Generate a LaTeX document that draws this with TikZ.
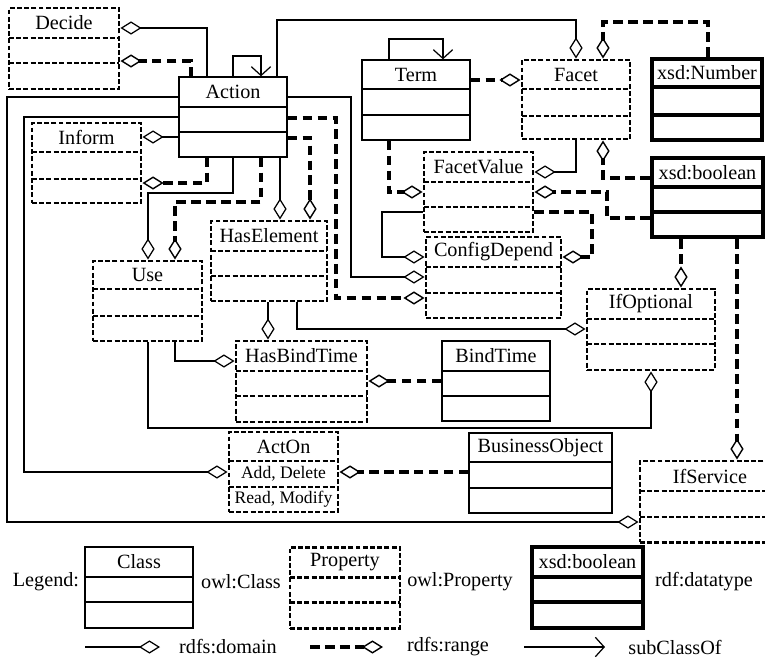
\documentclass[tikz,border=0pt]{standalone}
\usepackage{fontspec}
\setmainfont{Liberation Serif}
\usetikzlibrary{arrows.meta,fit}

\tikzset{
  classbox/.style={draw, line width=0.8pt, inner sep=0pt},
  propbox/.style={draw, line width=1.7pt, dash pattern=on 2.8pt off 1.3pt, inner sep=0pt},
  typebox/.style={draw, line width=2.8pt, inner sep=0pt},
  boxtext/.style={font=\fontsize{11.5}{13}\selectfont, inner sep=0pt},
  smalltext/.style={font=\fontsize{10}{12}\selectfont, inner sep=0pt},
  domainline/.style={line width=0.7pt, -{Diamond[open, length=12pt, width=7.5pt]}},
  rangeline/.style={line width=1.8pt, dash pattern=on 5.5pt off 3pt,
    -{Diamond[open, length=12pt, width=7.5pt, line width=0.8pt]}},
  subclassline/.style={line width=0.7pt, -{Straight Barb[length=5pt, width=11pt]}},
}

% box with name, corners, two dividers and title
\newcommand{\umlbox}[9]{%
  \node[#1, fit={(#3,#4) (#5,#6)}] (#2) {};
  \path[draw,#1] (#3,#7) -- (#5,#7);
  \path[draw,#1] (#3,#8) -- (#5,#8);
  \node[boxtext] (#2-title) at ({(#3+#5)/2},{(#4+#7)/2}) {#9};
}

\begin{document}
\begin{tikzpicture}[x=0.02cm, y=-0.02cm]
\useasboundingbox (0,0) rectangle (765,660);

\umlbox{propbox}{Decide}{9}{8}{119}{89}{38}{63}{Decide}
\umlbox{classbox}{Action}{179}{77}{287}{157}{107}{132}{Action}
\umlbox{classbox}{Term}{362}{60}{470}{140}{89}{115}{Term}
\umlbox{propbox}{Facet}{522}{60}{630}{139}{89}{116}{Facet}
\umlbox{typebox}{xsdNumber}{652}{59}{762}{140}{87}{115}{xsd:Number}
\umlbox{typebox}{xsdBoolean}{652}{158}{763}{237}{187}{212}{xsd:boolean}
\umlbox{propbox}{Inform}{32}{123}{141}{203}{152}{179}{Inform}
\umlbox{propbox}{FacetValue}{424}{152}{533}{232}{182}{207}{FacetValue}
\umlbox{propbox}{ConfigDepend}{426}{237}{561}{318}{267}{293}{ConfigDepend}
\umlbox{propbox}{HasElement}{211}{221}{327}{301}{251}{276}{HasElement}
\umlbox{propbox}{Use}{93}{261}{202}{341}{289}{316}{Use}
\umlbox{propbox}{IfOptional}{587}{289}{715}{370}{319}{344}{IfOptional}
\umlbox{propbox}{HasBindTime}{236}{341}{367}{422}{371}{396}{HasBindTime}
\umlbox{classbox}{BindTime}{442}{341}{550}{421}{371}{396}{BindTime}
\umlbox{propbox}{ActOn}{229}{432}{338}{512}{461}{487}{ActOn}
\node[smalltext] (ActOn-add) at (ActOn.center |- 0,474) {Add, Delete};
\node[smalltext] (ActOn-read) at (ActOn.center |- 0,499) {Read, Modify};
\umlbox{classbox}{BusinessObject}{469}{433}{612}{513}{462}{488}{BusinessObject}
\umlbox{propbox}{IfService}{640}{461}{780}{542}{491}{517}{IfService}

% subClassOf loops
\path[draw,subclassline] (Action.north -| 233,0) |- (261,56) -- (Action.north -| 261,0);
\path[draw,subclassline] (Term.north -| 389,0) |- (443,39) -- (Term.north -| 443,0);

% Action
\path[draw,domainline] (Action.north -| 207,0) |- (Decide.east |- 0,28);
\path[draw,rangeline] (Action.north -| 191,0) |- (Decide.east |- 0,61);
\path[draw,domainline] (Action.north -| 277,0) |- (576,20) -- (Facet.north -| 576,0);
\path[draw,domainline] (Action.west |- 0,97) -| (7,522) -- (IfService.west |- 0,522);
\path[draw,domainline] (Action.west |- 0,117) -| (24,472) -- (ActOn.west |- 0,472);
\path[draw,domainline] (Action.west |- 0,137) -- (Inform.east |- 0,137);
\path[draw,rangeline] (Action.south -| 207,0) |- (Inform.east |- 0,183);
\path[draw,domainline] (Action.south -| 233,0) |- (148,193) -- (Use.north -| 148,0);
\path[draw,rangeline] (Action.south -| 261,0) |- (175,202) -- (Use.north -| 175,0);
\path[draw,domainline] (Action.south -| 280,0) -- (HasElement.north -| 280,0);
\path[draw,rangeline] (Action.east |- 0,138) -| (HasElement.north -| 310,0);
\path[draw,domainline] (Action.east |- 0,97) -| (351,277) -- (ConfigDepend.west |- 0,277);
\path[draw,rangeline] (Action.east |- 0,118) -| (336,298) -- (ConfigDepend.west |- 0,298);

% Term, Facet, FacetValue
\path[draw,rangeline] (Term.east |- 0,80) -- (Facet.west |- 0,80);
\path[draw,rangeline] (xsdNumber.north -| 708,0) |- (603,22) -- (Facet.north -| 603,0);
\path[draw,rangeline] (xsdBoolean.west |- 0,178) -| (Facet.south -| 603,0);
\path[draw,rangeline] (Term.south -| 389,0) |- (FacetValue.west |- 0,192);
\path[draw,domainline] (Facet.south -| 576,0) |- (FacetValue.east |- 0,172);
\path[draw,rangeline] (xsdBoolean.west |- 0,218) -| (607,192) -- (FacetValue.east |- 0,192);
\path[draw,domainline] (FacetValue.west |- 0,212) -| (382,257) -- (ConfigDepend.west |- 0,257);
\path[draw,rangeline] (FacetValue.east |- 0,212) -| (592,257) -- (ConfigDepend.east |- 0,257);

% IfOptional, IfService, HasBindTime, ActOn
\path[draw,rangeline] (xsdBoolean.south -| 681,0) -- (IfOptional.north -| 681,0);
\path[draw,rangeline] (xsdBoolean.south -| 737,0) -- (IfService.north -| 737,0);
\path[draw,domainline] (HasElement.south -| 297,0) |- (IfOptional.west |- 0,329);
\path[draw,domainline] (Use.south -| 148,0) |- (651,428) -- (IfOptional.south -| 651,0);
\path[draw,domainline] (HasElement.south -| 268,0) -- (HasBindTime.north -| 268,0);
\path[draw,domainline] (Use.south -| 175,0) |- (HasBindTime.west |- 0,361);
\path[draw,rangeline] (BindTime.west |- 0,381) -- (HasBindTime.east |- 0,381);
\path[draw,rangeline] (BusinessObject.west |- 0,472) -- (ActOn.east |- 0,472);

% legend
\node[boxtext] (legend) at (46,582) {Legend:};
\umlbox{classbox}{legClass}{85}{547}{193}{628}{577}{602}{Class}
\node[boxtext] (legClass-text) at (241,582) {owl:Class};
\umlbox{propbox}{legProperty}{290}{547}{400}{628}{577}{602}{Property}
\node[boxtext] (legProperty-text) at (460,582) {owl:Property};
\umlbox{typebox}{legType}{532}{547}{643}{628}{577}{602}{xsd:boolean}
\node[boxtext] (legType-text) at (704,582) {rdf:datatype};

\coordinate (dom-a) at (85,647);
\coordinate (dom-b) at (160,647);
\path[draw,domainline] (dom-a) -- (dom-b);
\node[boxtext] (dom-text) at (228,647) {rdfs:domain};
\coordinate (ran-a) at (310,647);
\coordinate (ran-b) at (383,647);
\path[draw,rangeline] (ran-a) -- (ran-b);
\node[boxtext] (ran-text) at (448,647) {rdfs:range};
\coordinate (sub-a) at (524,647);
\coordinate (sub-b) at (605,647);
\path[draw,subclassline] (sub-a) -- (sub-b);
\node[boxtext] (sub-text) at (675,647) {subClassOf};
\end{tikzpicture}
\end{document}
